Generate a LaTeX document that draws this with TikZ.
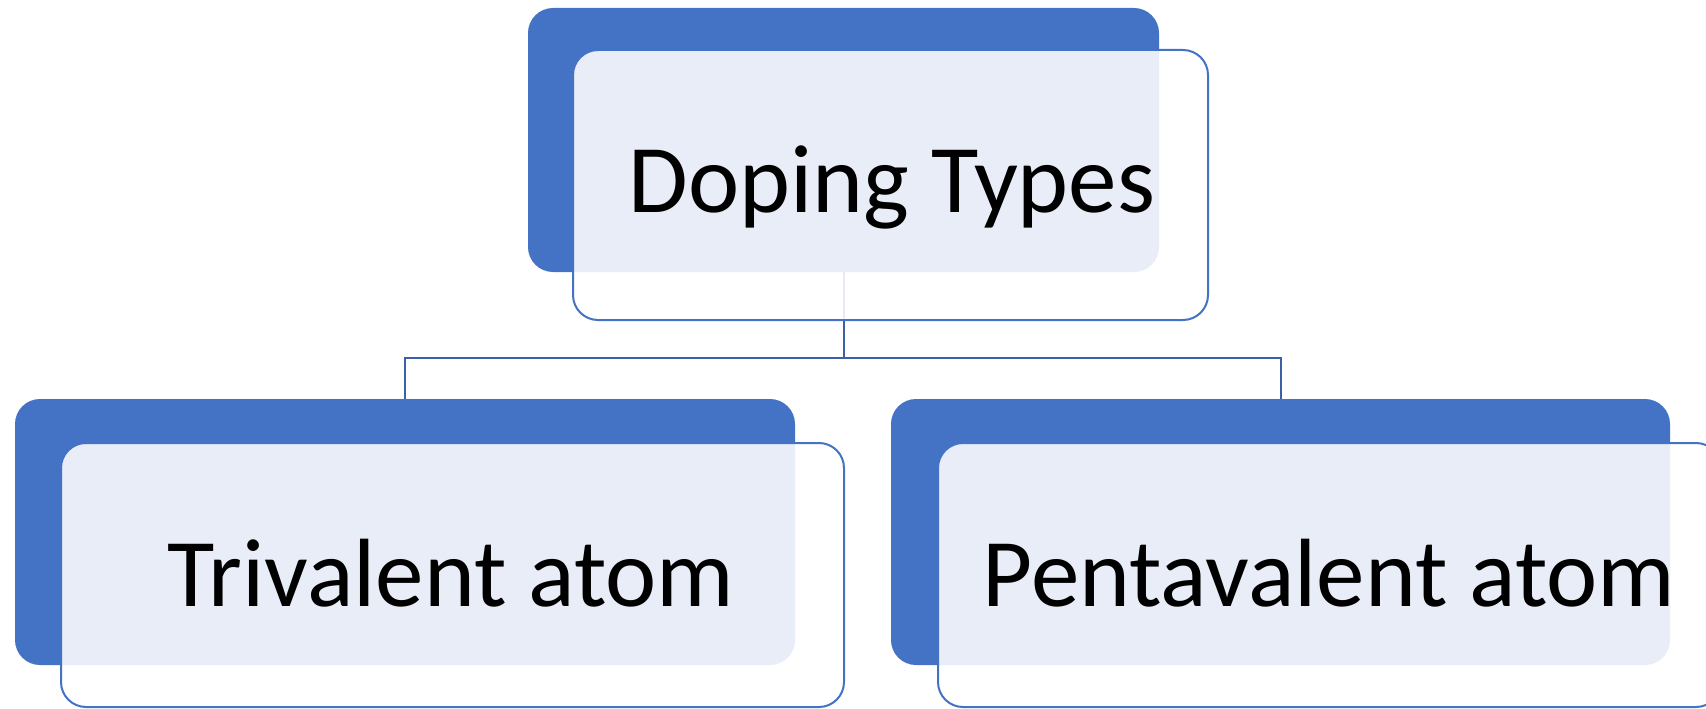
\documentclass[tikz,border=0pt]{standalone}
\usepackage{fontspec}
\setmainfont{Carlito}
\definecolor{accent}{RGB}{68,114,196}
\definecolor{linkblue}{RGB}{60,96,168}
\tikzset{
  backbox/.style={rectangle, rounded corners=25pt, fill=accent, draw=none, inner sep=0pt, outer sep=0pt},
  frontbox/.style={rectangle, rounded corners=25pt, fill=white, fill opacity=0.88, draw=accent, draw opacity=1, line width=2pt, inner sep=0pt, outer sep=0pt},
  label/.style={anchor=base, inner sep=0pt, text=black, font=\fontsize{97}{100}\selectfont},
  link/.style={draw=linkblue, line width=2pt}
}
\begin{document}
\begin{tikzpicture}[x=1pt,y=-1pt]
\clip (0,0) rectangle (1706,709);
\fill[white] (0,0) rectangle (1706,709);
% back boxes
\node[backbox, minimum width=631pt, minimum height=264pt] (tb) at (843.5,140) {};
\node[backbox, minimum width=780pt, minimum height=266pt] (lb) at (405,532) {};
\node[backbox, minimum width=779pt, minimum height=266pt] (rb) at (1280.5,532) {};
% connectors
\coordinate (bus) at (843.5,358);
\draw[link] (tb.south) -- (bus);
\draw[link] (bus) -| (lb.north);
\draw[link] (bus) -| (rb.north);
% front boxes
\node[frontbox, minimum width=635pt, minimum height=270pt] (tf) at (890.5,185) {};
\node[frontbox, minimum width=783pt, minimum height=264pt] (lf) at (452.5,575) {};
\node[frontbox, minimum width=783pt, minimum height=264pt] (rf) at (1329.5,575) {};
% texts
\node[label] (tt) at (892,212) {Doping Types};
\node[label] (lt) at (451,606) {Trivalent atom};
\node[label] (rt) at (1329,606) {Pentavalent atom};
\end{tikzpicture}
\end{document}
